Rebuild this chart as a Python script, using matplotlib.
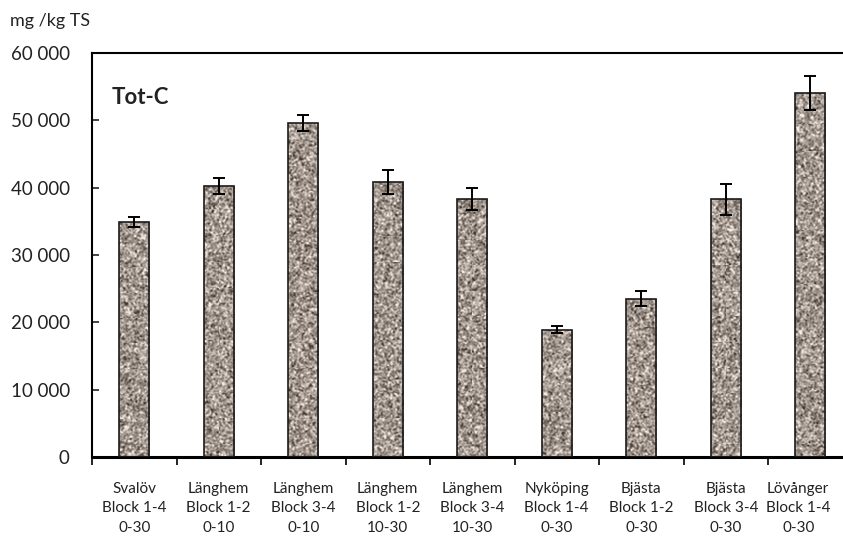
import numpy as np
import matplotlib.pyplot as plt
import matplotlib.transforms as mtransforms
from matplotlib.ticker import FuncFormatter, FixedLocator

# Tot-C per site / block / depth
categories = [
    "Svalöv\nBlock 1-4\n0-30",
    "Länghem\nBlock 1-2\n0-10",
    "Länghem\nBlock 3-4\n0-10",
    "Länghem\nBlock 1-2\n10-30",
    "Länghem\nBlock 3-4\n10-30",
    "Nyköping\nBlock 1-4\n0-30",
    "Bjästa\nBlock 1-2\n0-30",
    "Bjästa\nBlock 3-4\n0-30",
    "Lövånger\nBlock 1-4\n0-30",
]
tot_c = [34900, 40200, 49600, 40800, 38300, 18900, 23500, 38300, 54100]
tot_c_err = [700, 1200, 1200, 1800, 1600, 500, 1100, 2300, 2500]

plt.rcParams['font.family'] = ['Lato', 'DejaVu Sans']

fig = plt.figure(figsize=(8.43, 5.44), dpi=100)
W, H = 843, 544
left, right, top, bottom = 92, 92 + 9 * 84.5, 53, 457
ax = fig.add_axes([left / W, 1 - bottom / H, (right - left) / W, (bottom - top) / H])

x = np.arange(len(categories))
bars = ax.bar(x, tot_c, width=0.36, color='#a39890', edgecolor='#1a1a1a', linewidth=1.2, zorder=2)
ax.errorbar(x, tot_c, yerr=tot_c_err, fmt='none', ecolor='black', elinewidth=1.4,
            capsize=4, capthick=1.4, zorder=4)

ax.set_xlim(-0.5, len(categories) - 0.5)
ax.set_ylim(0, 60000)

# granite-like fill texture for the bars
rng = np.random.default_rng(3)
noise = rng.normal(0, 1, (420, 780))
k = np.array([0.25, 0.5, 0.25])
noise = np.apply_along_axis(lambda r: np.convolve(r, k, mode='same'), 1, noise)
noise = np.apply_along_axis(lambda c: np.convolve(c, k, mode='same'), 0, noise)
noise = np.clip(noise / noise.std(), -2.8, 2.5)
base = np.array([163, 152, 144]) / 255.0
tex = np.clip(base[None, None, :] + 0.13 * noise[:, :, None], 0, 1)
for b in bars:
    im = ax.imshow(tex, extent=(-0.5, len(categories) - 0.5, 0, 60000), aspect='auto',
                   interpolation='nearest', zorder=2.5)
    im.set_clip_path(b)
for b in bars:
    b.set_facecolor('none')
    b.set_zorder(3)

ax.yaxis.set_major_formatter(FuncFormatter(lambda v, p: f"{int(v):,}".replace(",", " ")))
ax.set_yticks(range(0, 60001, 10000))
ax.tick_params(axis='y', direction='in', length=5, width=1.2, pad=16, labelsize=13.5, colors='#222222')

ax.set_xticks(x)
ax.set_xticklabels(categories, linespacing=1.5)
ax.tick_params(axis='x', which='major', length=0, pad=18, labelsize=11, labelcolor='#222222')
ax.xaxis.set_minor_locator(FixedLocator(np.arange(-0.5, len(categories), 1.0)))
ax.tick_params(axis='x', which='minor', direction='out', length=6, width=1.2)

# last label is pushed left so it stays inside the figure (as in the original)
last = ax.get_xticklabels()[-1]
last.set_transform(last.get_transform() + mtransforms.ScaledTranslation(-12 / 100, 0, fig.dpi_scale_trans))

ax.spines['right'].set_visible(False)
ax.spines['left'].set_linewidth(1.5)
ax.spines['top'].set_linewidth(1.5)
ax.spines['bottom'].set_linewidth(2.2)

ax.text(0.026, 0.891, "Tot-C", transform=ax.transAxes, fontsize=16, fontweight='bold',
        color='#222222', va='center', ha='left')
fig.text(10 / W, 1 - 21 / H, "mg /kg TS", fontsize=13, color='#222222', va='center', ha='left')

fig.savefig("out.png", dpi=100)
